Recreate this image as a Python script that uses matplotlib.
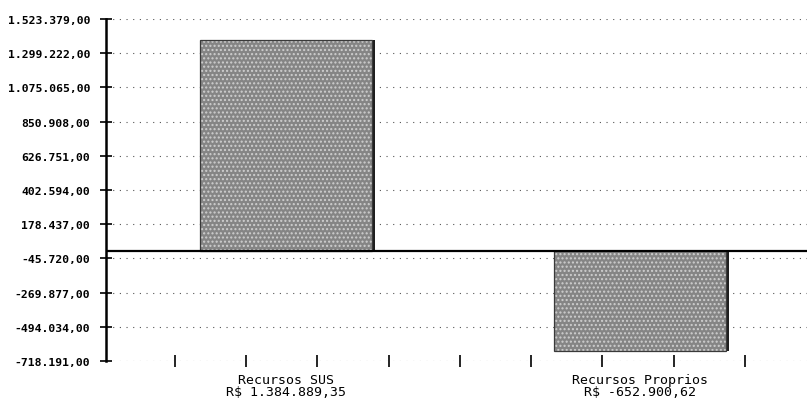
import numpy as np
import matplotlib.pyplot as plt

# dados do grafico
categorias = ['Recursos SUS\nR$ 1.384.889,35', 'Recursos Proprios\nR$ -652.900,62']
valores = [1384889.35, -652900.62]
yticks = [-718191, -494034, -269877, -45720, 178437, 402594,
          626751, 850908, 1075065, 1299222, 1523379]
ylabels = ['-718.191,00', '-494.034,00', '-269.877,00', '-45.720,00', '178.437,00',
           '402.594,00', '626.751,00', '850.908,00', '1.075.065,00', '1.299.222,00',
           '1.523.379,00']

fig = plt.figure(figsize=(8.07, 4.14), dpi=100)
ax = fig.add_axes([106 / 807, 52 / 414, 701 / 807, 342 / 414])

x = np.arange(len(valores))
largura = 0.486

# sombra (efeito 3D) e barra
ax.bar(x + 0.009, valores, largura, color='#1e1e1e', zorder=2)
ax.bar(x, valores, largura, color='#858585', edgecolor='#cfcfcf', hatch='....',
       linewidth=0, zorder=3)
ax.bar(x, valores, largura, fill=False, edgecolor='#3a3a3a', linewidth=0.9, zorder=4)

ax.axhline(0, color='black', linewidth=1.6, zorder=5)

ax.set_xlim(-0.508, 1.472)
ax.set_ylim(yticks[0], yticks[-1])

ax.set_yticks(yticks)
ax.set_yticklabels(ylabels, fontfamily='DejaVu Sans Mono', fontweight='bold', fontsize=8.2)
ax.tick_params(axis='y', direction='inout', length=9, width=1.2, pad=7)

for y in yticks:
    ax.axhline(y, color='#555555', linestyle=(0, (1, 5)), linewidth=0.8, zorder=1)

# ticks pequenos no eixo x
ax.set_xticks(-0.3136 + 0.2013 * np.arange(9))
ax.set_xticklabels([])
ax.tick_params(axis='x', direction='inout', length=9, width=1.2, color='black')

for xi, txt in zip(x, categorias):
    ax.text(xi, -0.035, txt, transform=ax.get_xaxis_transform(), ha='center', va='top',
            fontfamily='DejaVu Sans Mono', fontsize=9.5, linespacing=0.95)

for lado in ['top', 'right', 'bottom']:
    ax.spines[lado].set_visible(False)
ax.spines['left'].set_linewidth(1.8)

fig.savefig('out.png', dpi=100)
